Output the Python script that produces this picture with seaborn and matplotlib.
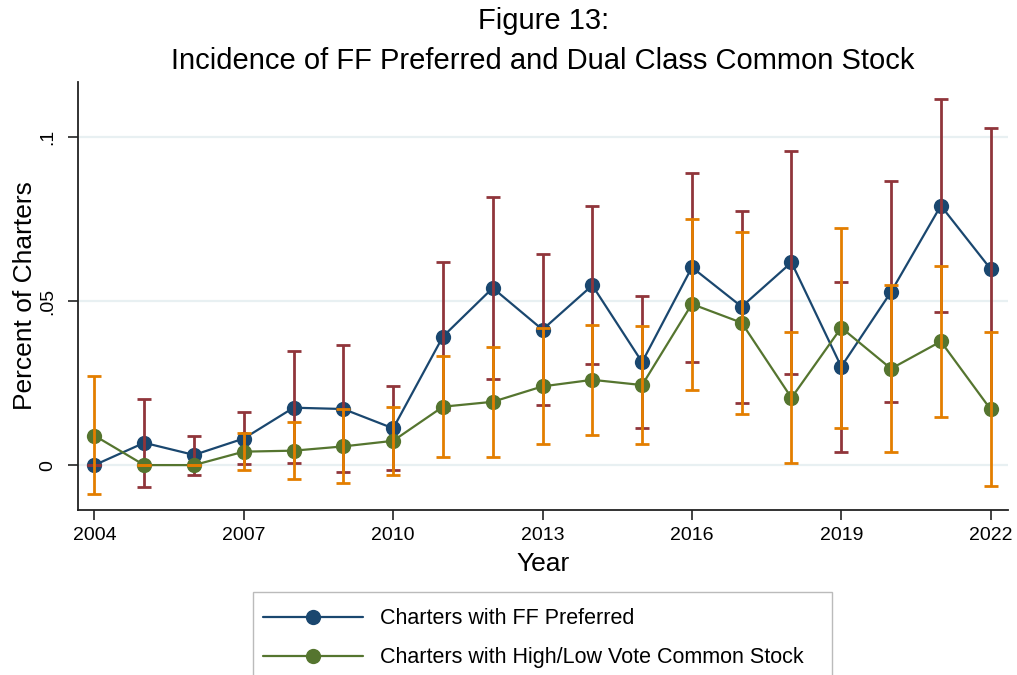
import numpy as np
import matplotlib
matplotlib.use("Agg")
import matplotlib.pyplot as plt
from matplotlib.patches import Rectangle
import seaborn as sns

# values
years = [2004, 2005, 2006, 2007, 2008, 2009, 2010, 2011, 2012, 2013,
         2014, 2015, 2016, 2017, 2018, 2019, 2020, 2021, 2022]

ff = [0.0, 0.0068, 0.0031, 0.0081, 0.0175, 0.0171, 0.0112, 0.0392, 0.0540, 0.0413,
      0.0548, 0.0314, 0.0603, 0.0483, 0.0618, 0.0300, 0.0528, 0.0791, 0.0598]
ff_lo = [0.0, -0.0066, -0.0029, 0.0002, 0.0005, -0.0022, -0.0015, 0.0168, 0.0263, 0.0183,
         0.0308, 0.0112, 0.0315, 0.0190, 0.0277, 0.0041, 0.0191, 0.0466, 0.0170]
ff_hi = [0.0, 0.0201, 0.0088, 0.0161, 0.0348, 0.0366, 0.0240, 0.0620, 0.0816, 0.0643,
         0.0790, 0.0515, 0.0890, 0.0775, 0.0957, 0.0558, 0.0867, 0.1117, 0.1029]

dual = [0.0090, 0.0, 0.0, 0.0041, 0.0044, 0.0057, 0.0074, 0.0178, 0.0193, 0.0240,
        0.0260, 0.0244, 0.0491, 0.0434, 0.0205, 0.0419, 0.0294, 0.0377, 0.0170]
dual_lo = [-0.0088, 0.0, 0.0, -0.0015, -0.0043, -0.0056, -0.0029, 0.0024, 0.0025, 0.0064,
           0.0091, 0.0065, 0.0229, 0.0157, 0.0005, 0.0114, 0.0040, 0.0146, -0.0065]
dual_hi = [0.0272, 0.0, 0.0, 0.0099, 0.0130, 0.0171, 0.0178, 0.0333, 0.0361, 0.0419,
           0.0427, 0.0424, 0.0750, 0.0712, 0.0405, 0.0724, 0.0549, 0.0606, 0.0405]

x_ticks = [2004, 2007, 2010, 2013, 2016, 2019, 2022]
y_ticks = [0, 0.05, 0.1]
y_tick_labels = ["0", ".05", ".1"]

NAVY, MAROON, GREEN, ORANGE = "#1A476F", "#90353B", "#55752F", "#E37E00"

sns.set_theme(style="white")
plt.rcParams["font.family"] = ["Liberation Sans", "DejaVu Sans"]
plt.rcParams.update({"text.color": "black", "axes.labelcolor": "black",
                     "xtick.color": "black", "ytick.color": "black"})

fig = plt.figure(figsize=(10.17, 6.75), dpi=100)
ax = fig.add_axes([0.0767, 0.2444, 0.9145, 0.6341])

for y in y_ticks:
    ax.axhline(y, color="#E8F0F2", lw=1.6, zorder=0)


def ci(ax, vals, lo, hi, color, z):
    v = np.asarray(vals)
    err = [v - np.asarray(lo), np.asarray(hi) - v]
    ax.errorbar(years, v, yerr=err, fmt="none", ecolor=color, elinewidth=2,
                capsize=4.8, capthick=2, zorder=z)


sns.lineplot(x=years, y=ff, color=NAVY, marker="o", markersize=11,
             markeredgewidth=0, lw=1.6, ax=ax, zorder=2,
             label="Charters with FF Preferred")
ci(ax, ff, ff_lo, ff_hi, MAROON, 3)
sns.lineplot(x=years, y=dual, color=GREEN, marker="o", markersize=11,
             markeredgewidth=0, lw=1.6, ax=ax, zorder=4,
             label="Charters with High/Low Vote Common Stock")
ci(ax, dual, dual_lo, dual_hi, ORANGE, 5)

ax.set_xlim(2003.67, 2022.35)
ax.set_ylim(-0.0137, 0.1168)
ax.set_xticks(x_ticks)
ax.set_yticks(y_ticks)
ax.set_yticklabels(y_tick_labels, rotation=90, va="center")
ax.tick_params(axis="both", labelsize=14, length=7, width=1.2, color="#222222",
               direction="out", bottom=True, left=True)
ax.tick_params(axis="y", pad=9)
ax.tick_params(axis="x", pad=5)
for side in ("top", "right"):
    ax.spines[side].set_visible(False)
for side in ("left", "bottom"):
    ax.spines[side].set_color("#222222")
    ax.spines[side].set_linewidth(1.3)

ax.set_xlabel("Year", fontsize=19)
ax.set_ylabel("Percent of Charters", fontsize=19)
ax.xaxis.set_label_coords(0.5, -0.127)
ax.xaxis.label.set_va("center")
ax.yaxis.set_label_coords(-0.057, 0.5)
ax.yaxis.label.set_va("center")

fig.text(0.534, 0.969, "Figure 13:", ha="center", va="center", fontsize=21)
fig.text(0.534, 0.909, "Incidence of FF Preferred and Dual Class Common Stock",
         ha="center", va="center", fontsize=21)

handles, labels = ax.get_legend_handles_labels()
ax.get_legend().remove()
fig.legend(handles, labels, loc="upper left", bbox_to_anchor=(0.2586, 0.099),
           frameon=False, fontsize=15.5, handlelength=4.65, handletextpad=0.8,
           labelspacing=0.85, borderaxespad=0, borderpad=0)
fig.patches.append(Rectangle((0.2488, -0.05), 0.5693, 0.173, transform=fig.transFigure,
                             fill=False, edgecolor="#BBBBBB", lw=1.0))

fig.savefig("out.png", dpi=100)
